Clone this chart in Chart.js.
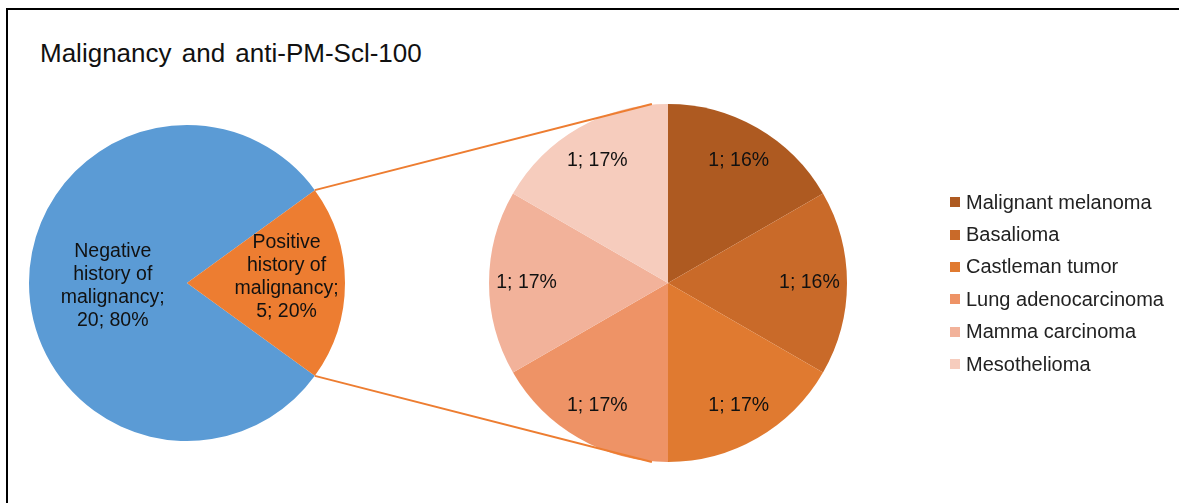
<!DOCTYPE html>
<html>
<head>
<meta charset="utf-8">
<script src="https://cdn.jsdelivr.net/npm/chart.js@4.4.1/dist/chart.umd.min.js"></script>
<style>
body { margin: 0; background: #fff; font-family: "Liberation Sans", Arial, sans-serif; }
#wrap { position: relative; width: 1179px; height: 503px; overflow: hidden; background: #fff; }
#frame { position: absolute; left: 6px; top: 8px; width: 1200px; height: 520px; border-top: 2px solid #000; border-left: 2px solid #000; }
#title { position: absolute; left: 40px; top: 40px; font-size: 26px; line-height: 1; color: #111; word-spacing: 3px; white-space: nowrap; }
canvas { position: absolute; left: 0; top: 0; }
#legend { position: absolute; left: 950px; top: 186px; margin: 0; padding: 0; list-style: none; }
#legend li { height: 32.4px; display: flex; align-items: center; font-size: 20px; color: #222; white-space: nowrap; }
#legend span.box { display: inline-block; width: 10px; height: 10px; margin-right: 6px; }
</style>
</head>
<body>
<div id="wrap">
  <div id="frame"></div>
  <div id="title">Malignancy and anti-PM-Scl-100</div>
  <canvas id="mainPie" width="1179" height="503"></canvas>
  <canvas id="subPie" width="1179" height="503"></canvas>
  <ul id="legend"></ul>
</div>
<script>
// main pie: history of malignancy
var mainLabels = ['Negative history of malignancy', 'Positive history of malignancy'];
var mainValues = [20, 5];
var mainPct = ['80%', '20%'];
var mainColors = ['#5B9BD5', '#ED7D31'];

// secondary pie: breakdown of the positive group
var subLabels = ['Malignant melanoma', 'Basalioma', 'Castleman tumor', 'Lung adenocarcinoma', 'Mamma carcinoma', 'Mesothelioma'];
var subValues = [1, 1, 1, 1, 1, 1];
var subPct = ['16%', '16%', '17%', '17%', '17%', '17%'];
var subColors = ['#AE5A21', '#C96A29', '#E07A30', '#EE9366', '#F2B29A', '#F6CCBD'];

var labelFont = '19.5px "Liberation Sans", Arial, sans-serif';

function wrapText(ctx, text, maxWidth) {
    var words = text.split(' ');
    var lines = [];
    var line = '';
    words.forEach(function (w) {
        var test = line ? line + ' ' + w : w;
        if (line && ctx.measureText(test).width > maxWidth) {
            lines.push(line);
            line = w;
        } else {
            line = test;
        }
    });
    if (line) lines.push(line);
    return lines;
}

// draws "name; value; pct" labels inside the slices
var sliceLabels = {
    id: 'sliceLabels',
    afterDatasetsDraw: function (chart, args, opts) {
        var ctx = chart.ctx;
        var meta = chart.getDatasetMeta(0);
        var ds = chart.data.datasets[0];
        ctx.save();
        ctx.font = labelFont;
        ctx.fillStyle = '#111';
        ctx.textAlign = 'center';
        ctx.textBaseline = 'middle';
        meta.data.forEach(function (arc, i) {
            var mid = (arc.startAngle + arc.endAngle) / 2;
            var r = arc.outerRadius * opts.radius[i];
            var x = arc.x + Math.cos(mid) * r;
            var y = arc.y + Math.sin(mid) * r + (opts.dy ? opts.dy[i] : 0);
            var text = (opts.names ? chart.data.labels[i] + '; ' : '') + ds.data[i] + '; ' + opts.pct[i];
            var lines = opts.wrap ? wrapText(ctx, text, opts.wrap) : [text];
            var lh = 23.2;
            var top = y - (lines.length - 1) * lh / 2;
            lines.forEach(function (l, k) {
                ctx.fillText(l, x, top + k * lh);
            });
        });
        ctx.restore();
    }
};

var ctx = document.getElementById('mainPie').getContext('2d');
var mainChart = new Chart(ctx, {
    type: 'pie',
    data: {
        labels: mainLabels,
        datasets: [{
            data: mainValues,
            backgroundColor: mainColors,
            borderWidth: 0
        }]
    },
    options: {
        responsive: false,
        animation: false,
        events: [],
        rotation: 126,
        layout: { padding: { left: 29, right: 834, top: 125, bottom: 62 } },
        plugins: {
            legend: { display: false },
            tooltip: { enabled: false },
            sliceLabels: { names: true, wrap: 112, pct: mainPct, radius: [0.47, 0.63], dy: [3, -6] }
        }
    },
    plugins: [sliceLabels]
});

// lines joining the positive slice to the secondary pie
var connectors = {
    id: 'connectors',
    afterDraw: function (chart) {
        var src = mainChart.getDatasetMeta(0).data[1];
        var dst = chart.getDatasetMeta(0).data[0];
        var R = src.outerRadius;
        var r = dst.outerRadius;
        var c = chart.ctx;
        c.save();
        c.strokeStyle = '#ED7D31';
        c.lineWidth = 2;
        c.beginPath();
        c.moveTo(src.x + Math.cos(src.startAngle) * R, src.y + Math.sin(src.startAngle) * R);
        c.lineTo(dst.x - r * 0.09, dst.y - r);
        c.moveTo(src.x + Math.cos(src.endAngle) * R, src.y + Math.sin(src.endAngle) * R);
        c.lineTo(dst.x - r * 0.09, dst.y + r);
        c.stroke();
        c.restore();
    }
};

var ctx = document.getElementById('subPie').getContext('2d');
var subChart = new Chart(ctx, {
    type: 'pie',
    data: {
        labels: subLabels,
        datasets: [{
            data: subValues,
            backgroundColor: subColors,
            borderWidth: 0
        }]
    },
    options: {
        responsive: false,
        animation: false,
        events: [],
        layout: { padding: { left: 489, right: 332, top: 104, bottom: 41 } },
        plugins: {
            legend: { display: false },
            tooltip: { enabled: false },
            sliceLabels: { names: false, pct: subPct, radius: [0.79, 0.79, 0.79, 0.79, 0.79, 0.79] }
        }
    },
    plugins: [sliceLabels, connectors]
});

// legend for the secondary pie, built from the chart's own legend items
var legendEl = document.getElementById('legend');
subChart.options.plugins.legend.labels.generateLabels(subChart).forEach(function (item) {
    var li = document.createElement('li');
    var box = document.createElement('span');
    box.className = 'box';
    box.style.background = item.fillStyle;
    li.appendChild(box);
    li.appendChild(document.createTextNode(item.text));
    legendEl.appendChild(li);
});
</script>
</body>
</html>
